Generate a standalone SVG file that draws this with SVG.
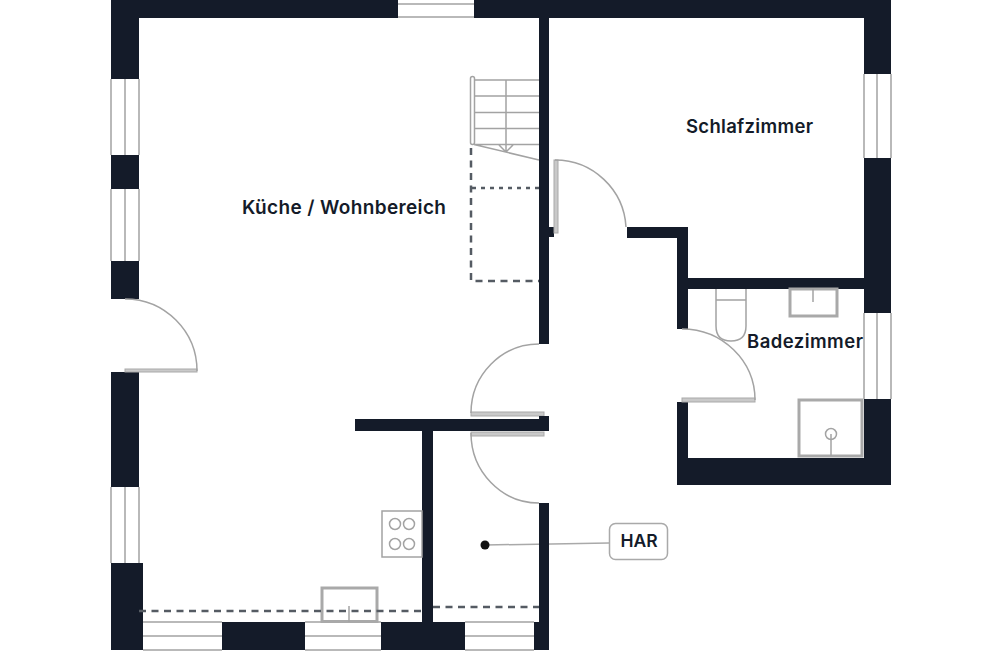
<svg xmlns="http://www.w3.org/2000/svg" width="1000" height="666" viewBox="0 0 1000 666">
<style>
.w{fill:#141b29}
.g{fill:none;stroke:#a3a3a3;stroke-width:1.5}
.g2{fill:none;stroke:#a9a9a9;stroke-width:3}
.leaf{fill:#c9c9c9;stroke:#a9a9a9;stroke-width:1}
.d{fill:none;stroke:#555b63;stroke-width:2.500;stroke-dasharray:7 5.500}
.d2{fill:none;stroke:#555b63;stroke-width:2.500;stroke-dasharray:4 5}
text{font-family:"Inter","Liberation Sans",sans-serif;font-weight:600;fill:#141b29}
</style>
<rect width="1000" height="666" fill="#fff"/>
<g id="connectors">
<path d="M485 545L609 543" fill="none" stroke="#a9a9a9" stroke-width="1.5"/>
</g>
<g id="walls">
<rect class="w" x="111" y="0" width="287" height="18"/>
<rect class="w" x="474" y="0" width="417" height="18"/>
<rect class="w" x="111" y="0" width="28" height="79"/>
<rect class="w" x="111" y="155" width="28" height="34"/>
<rect class="w" x="111" y="261" width="28" height="38"/>
<rect class="w" x="111" y="372" width="28" height="115"/>
<rect class="w" x="111" y="563" width="32" height="87"/>
<rect class="w" x="222" y="622" width="83" height="28"/>
<rect class="w" x="381" y="622" width="84" height="28"/>
<rect class="w" x="534" y="622" width="15" height="28"/>
<rect class="w" x="539" y="18" width="10" height="326"/>
<rect class="w" x="539" y="503" width="10" height="130"/>
<rect class="w" x="355" y="419" width="194" height="12"/>
<rect class="w" x="422" y="431" width="11" height="195"/>
<rect class="w" x="549" y="227" width="5" height="10"/>
<rect class="w" x="627" y="227" width="61" height="11"/>
<rect class="w" x="677" y="227" width="11" height="102"/>
<rect class="w" x="688" y="278" width="190" height="11"/>
<rect class="w" x="864" y="0" width="27" height="74"/>
<rect class="w" x="864" y="158" width="27" height="155"/>
<rect class="w" x="864" y="399" width="27" height="86"/>
<rect class="w" x="677" y="458" width="214" height="27"/>
<rect class="w" x="677" y="402" width="11" height="60"/>
</g>
<g id="windows">
<path class="g" d="M398 4H474M398 17H474"/>
<path class="g" d="M111 79V155M125 79V155M139 79V155"/>
<path class="g" d="M111 189V261M125 189V261M139 189V261"/>
<path class="g" d="M111 487V563M125 487V563M139 487V563"/>
<path class="g" d="M143 622H222M143 636H222M143 650H222"/>
<path class="g" d="M305 622H381M305 636H381M305 650H381"/>
<path class="g" d="M465 622H534M465 636H534M465 650H534"/>
<path class="g" d="M864 74V158M877 74V158M891 74V158"/>
<path class="g" d="M864 313V399M877 313V399M891 313V399"/>
</g>
<g id="doors">
<rect class="leaf" x="125" y="369" width="72" height="3"/>
<path class="g" d="M125 299A72 72 0 0 1 197 371"/>
<rect class="leaf" x="554" y="160" width="4" height="73"/>
<path class="g" d="M555 160A71 71 0 0 1 626 227"/>
<rect class="leaf" x="682" y="398" width="73" height="4"/>
<path class="g" d="M682 329A73 71 0 0 1 755 400"/>
<rect class="leaf" x="471" y="412" width="73" height="4"/>
<path class="g" d="M539 344A68 69 0 0 0 471 413"/>
<rect class="leaf" x="471" y="432" width="73" height="4"/>
<path class="g" d="M471 433A68 70 0 0 0 539 503"/>
<rect class="w" x="539" y="416" width="10" height="5"/>
</g>
<g id="stairs">
<rect class="g" x="470.500" y="76.500" width="4" height="68" rx="2"/>
<path class="g" d="M474 80H539M474 96H539M474 112.500H539M474 128.500H539M474 144.500H539M506 80V151M474 144.500L539 160M499 145L506 152L513 145"/>
<path class="d" d="M471 148V281H539" stroke-dasharray="6 6"/>
<path class="d2" d="M472 188H539"/>
</g>
<g id="kitchen">
<rect class="g" x="382" y="511" width="40" height="46"/>
<circle class="g" cx="395" cy="524" r="5.500"/>
<circle class="g" cx="409" cy="524" r="5.500"/>
<circle class="g" cx="395" cy="544" r="5.500"/>
<circle class="g" cx="409" cy="544" r="5.500"/>
<rect class="g2" x="322" y="588" width="55" height="33.500"/>
<path class="g" d="M349 606V622"/>
<path class="d" d="M139 611H422M433 607H539"/>
</g>
<g id="bathroom">
<path class="g" d="M716 289V326Q716 341 731 341Q746 341 746 326V289M716 300H746"/>
<rect class="g2" x="790" y="289" width="47" height="27"/>
<path class="g" d="M813 289V302"/>
<rect class="g2" x="799" y="400" width="63" height="56"/>
<circle class="g" cx="831" cy="434" r="5.500"/>
<path class="g" d="M831 434V456"/>
</g>
<g id="label-kueche"><text x="242" y="213.500" font-size="19" textLength="204" lengthAdjust="spacing">Küche / Wohnbereich</text></g>
<g id="label-schlafzimmer"><text x="686" y="133" font-size="18.500" textLength="127" lengthAdjust="spacing">Schlafzimmer</text></g>
<g id="label-badezimmer"><text x="747" y="348" font-size="18.500" textLength="116" lengthAdjust="spacing">Badezimmer</text></g>
<g id="har">
<circle cx="485" cy="545" r="4.500" fill="#111"/>
<rect x="609.500" y="523.500" width="58" height="36" rx="6" fill="#fff" stroke="#a9a9a9" stroke-width="1.500"/>
<text x="639" y="547" font-size="17.500" text-anchor="middle">HAR</text>
</g>
</svg>
